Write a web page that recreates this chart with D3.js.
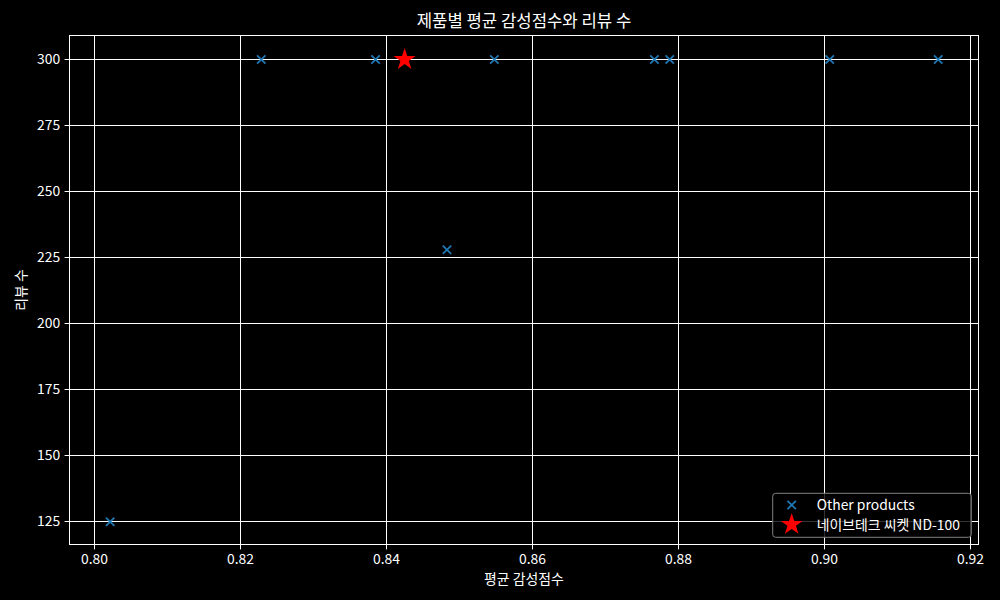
<!DOCTYPE html>
<html><head><meta charset="utf-8">
<script src="https://cdn.jsdelivr.net/npm/d3@7"></script>
<style>body{margin:0;background:#000}svg{display:block}text{font-family:"Noto Sans CJK KR","Noto Sans",sans-serif;fill:#fff}</style>
</head><body>
<svg id="c" width="1000" height="600"></svg>
<script>
const otherScores = [0.80215, 0.82284, 0.83849, 0.84827, 0.85475, 0.87667, 0.87877, 0.90068, 0.91553];
const otherCounts = [125, 300, 300, 228, 300, 300, 300, 300, 300];
const targetScore = [0.84247];
const targetCount = [300];
const xTicks = [0.80, 0.82, 0.84, 0.86, 0.88, 0.90, 0.92];
const yTicks = [125, 150, 175, 200, 225, 250, 275, 300];
const title = "제품별 평균 감성점수와 리뷰 수";
const xLabel = "평균 감성점수";
const yLabel = "리뷰 수";
const legendLabels = ["Other products", "네이브테크 씨켓 ND-100"];

const svg = d3.select("#c");
svg.append("rect").attr("width",1000).attr("height",600).attr("fill","#000");
const L=69.5,R=978.5,T=35.5,B=544.5;
const x = d3.scaleLinear().domain([0.79658,0.92105]).range([L,R]);
const y = d3.scaleLinear().domain([116.4,309.1]).range([B,T]);
const snap = v => Math.round(v - 0.5) + 0.5;

const g = svg.append("g");
g.selectAll(".gx").data(xTicks).enter().append("line")
 .attr("x1",d=>snap(x(d))).attr("x2",d=>snap(x(d))).attr("y1",T).attr("y2",B)
 .attr("stroke","#fff").attr("stroke-width",1);
g.selectAll(".gy").data(yTicks).enter().append("line")
 .attr("y1",d=>snap(y(d))).attr("y2",d=>snap(y(d))).attr("x1",L).attr("x2",R)
 .attr("stroke","#fff").attr("stroke-width",1);

const xa = svg.append("g").attr("transform",`translate(0,${B})`)
 .call(d3.axisBottom(x).tickValues(xTicks).tickFormat(d3.format(".2f")).tickSize(4.9).tickPadding(4.5));
const ya = svg.append("g").attr("transform",`translate(${L},0)`)
 .call(d3.axisLeft(y).tickValues(yTicks).tickFormat(d3.format("d")).tickSize(4.9).tickPadding(4.5));
[xa,ya].forEach(a=>{
 a.selectAll("path").remove();
 a.selectAll("text").attr("fill","#fff").style("font-size","13.9px");
});
xa.selectAll(".tick line").attr("stroke","#fff").attr("stroke-width",1);
xa.selectAll(".tick").attr("transform",d=>`translate(${snap(x(d))},0)`);
ya.selectAll(".tick line").attr("stroke","#fff").attr("stroke-width",1);
ya.selectAll(".tick").attr("transform",d=>`translate(0,${snap(y(d))})`);
svg.append("rect").attr("x",L).attr("y",T).attr("width",R-L).attr("height",B-T)
 .attr("fill","none").attr("stroke","#fff").attr("stroke-width",1);

const xm = (sz)=>`M${-sz},${-sz}L${sz},${sz}M${-sz},${sz}L${sz},${-sz}`;
svg.selectAll(".pt").data(otherScores).enter().append("path")
 .attr("transform",(d,i)=>`translate(${x(d)},${y(otherCounts[i])})`)
 .attr("d",xm(4.2)).attr("stroke","#1f77b4").attr("stroke-width",1.8).attr("fill","none");
const star = d3.symbol().type(d3.symbolStar).size(150);
svg.selectAll(".st").data(targetScore).enter().append("path")
 .attr("transform",(d,i)=>`translate(${x(d)},${y(targetCount[i])})`)
 .attr("d",star()).attr("fill","#ff0000");

svg.append("text").attr("x",(L+R)/2).attr("y",26.5).attr("text-anchor","middle").style("font-size","16.7px").text(title);
svg.append("text").attr("x",(L+R)/2).attr("y",584).attr("text-anchor","middle").style("font-size","13.9px").text(xLabel);
svg.append("text").attr("transform",`translate(25.5,${(T+B)/2}) rotate(-90)`).attr("text-anchor","middle").style("font-size","13.9px").text(yLabel);

const lg = svg.append("g");
lg.append("rect").attr("x",772.7).attr("y",493.3).attr("width",198.6).attr("height",44).attr("rx",3)
 .attr("fill","#000").attr("fill-opacity",0.8).attr("stroke","#808080").attr("stroke-width",1);
lg.append("path").attr("transform","translate(791.7,505)").attr("d",xm(4.2)).attr("stroke","#1f77b4").attr("stroke-width",1.8).attr("fill","none");
lg.append("path").attr("transform","translate(791.7,524.5)").attr("d",star()).attr("fill","#ff0000");
legendLabels.forEach((t,i)=>{
 lg.append("text").attr("x",816.7).attr("y",509.8+i*20).style("font-size","13.9px").text(t);
});
</script>
</body></html>
